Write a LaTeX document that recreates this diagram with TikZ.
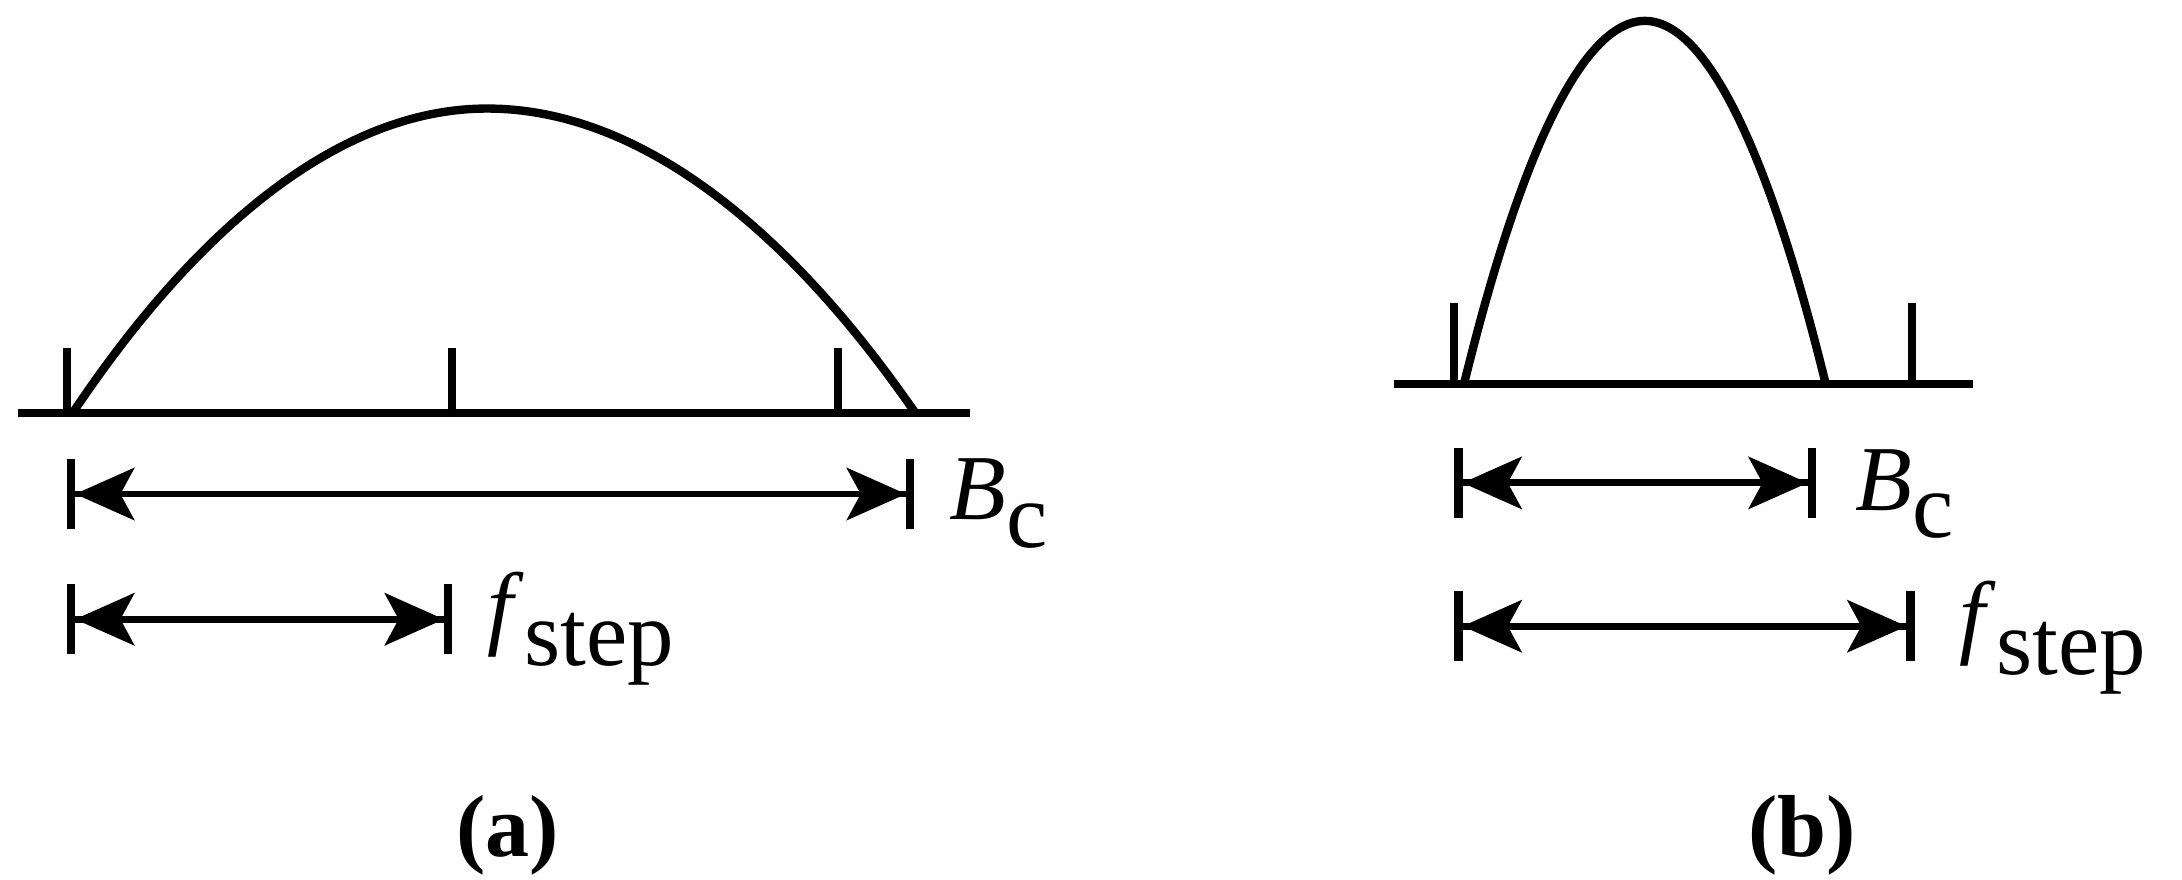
\documentclass[tikz,border=0pt]{standalone}
\usepackage{fontspec}
\setmainfont{Liberation Serif}
\usetikzlibrary{arrows.meta}
\begin{document}
\begin{tikzpicture}[x=0.02cm,y=-0.02cm,
  ln/.style={line width=0.12cm},
  dim/.style={line width=0.1cm,{Bar[width=1.0cm,line width=0.12cm]Stealth[length=0.85cm,width=0.75cm,inset=0.2cm]}-{Stealth[length=0.85cm,width=0.75cm,inset=0.2cm]Bar[width=1.0cm,line width=0.12cm]}},
  lab/.style={font=\fontsize{38}{40}\selectfont,inner sep=0pt,anchor=west},
  captext/.style={font=\fontsize{36}{40}\selectfont\bfseries,inner sep=0pt}]
\useasboundingbox (0,0) rectangle (1568,632);
% (a)
\coordinate (aL) at (13,297); \coordinate (aR) at (697,297);
\draw[ln] (aL) -- (aR);
\foreach \x in {48,325,602} \draw[ln] (\x,250) -- (\x,297);
\coordinate (a0) at (52,297); \coordinate (ap) at (350,78); \coordinate (a1) at (658,297);
\draw[ln] (a0) parabola bend (ap) (a1);
\coordinate (aB0) at (48,355); \coordinate (aB1) at (657,355);
\draw[dim] (aB0) -- (aB1);
\coordinate (aF0) at (48,445); \coordinate (aF1) at (325,445);
\draw[dim] (aF0) -- (aF1);
\node[lab] (aBc) at (682,362) {\textit{B}\raisebox{-0.3em}{c}};
\node[lab] (aFs) at (350,452) {\textit{f}\raisebox{-0.3em}{step}};
\node[captext] (ca) at (365,600) {(a)};
% (b)
\coordinate (bL) at (1002,276); \coordinate (bR) at (1418,276);
\draw[ln] (bL) -- (bR);
\foreach \x in {1045,1374} \draw[ln] (\x,218) -- (\x,276);
\coordinate (b0) at (1052,276); \coordinate (bp) at (1182,15); \coordinate (b1) at (1312,276);
\draw[ln] (b0) parabola bend (bp) (b1);
\coordinate (bB0) at (1045,347); \coordinate (bB1) at (1305,347);
\draw[dim] (bB0) -- (bB1);
\coordinate (bF0) at (1045,450); \coordinate (bF1) at (1376,450);
\draw[dim] (bF0) -- (bF1);
\node[lab] (bBc) at (1333,355) {\textit{B}\raisebox{-0.3em}{c}};
\node[lab] (bFs) at (1408,458) {\textit{f}\raisebox{-0.3em}{step}};
\node[captext] (cb) at (1295,600) {(b)};
\end{tikzpicture}
\end{document}
